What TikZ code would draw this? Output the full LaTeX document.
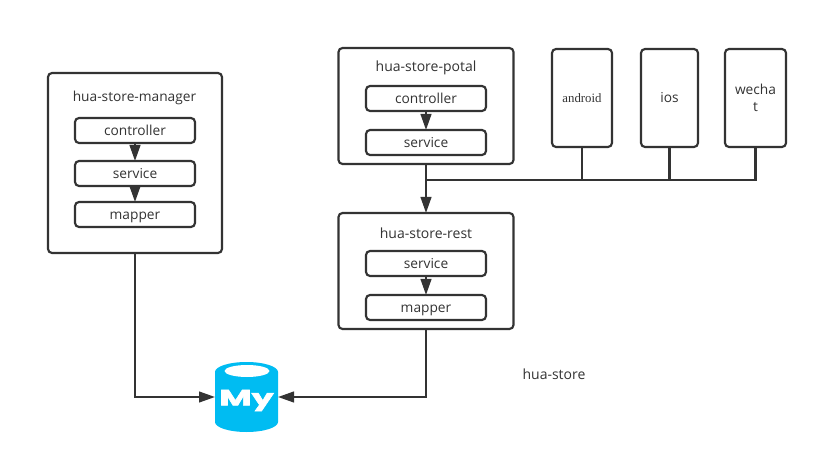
\documentclass[tikz,border=0pt]{standalone}
\usepackage{fontspec}
\setmainfont{Open Sans}
\newfontfamily\serifface{Liberation Serif}
\newfontfamily\logoface{Poppins}[BoldFeatures={FakeBold=2}]
\usetikzlibrary{arrows.meta}
\definecolor{ink}{HTML}{333333}
\definecolor{dbblue}{HTML}{00BCF2}
\tikzset{
  x=0.75pt,y=-0.75pt,
  rbox/.style={draw=ink,line width=1.6pt,rounded corners=3pt,fill=white,inner sep=0pt,outer sep=0pt,align=center,text=ink,font=\fontsize{10.3pt}{12.4pt}\selectfont},
  outerbox/.style={rbox,minimum width=131.25pt},
  innerbox/.style={rbox,minimum width=90pt,minimum height=18.75pt,text height=8.4pt,text depth=1pt},
  devicebox/.style={rbox,minimum height=73.5pt},
  label/.style={inner sep=0pt,text=ink,font=\fontsize{10.5pt}{12.4pt}\selectfont},
  conn/.style={draw=ink,line width=1.6pt},
  arr/.style={conn,-{Triangle[length=12pt,width=8pt]}},
}
\begin{document}
\begin{tikzpicture}
\useasboundingbox (0,0) rectangle (817,463);
% manager
\node[outerbox,minimum width=130.5pt,minimum height=135pt] (manager) at (135,163) {};
\node[label,font=\fontsize{10.3pt}{12.4pt}\selectfont] (mantitle) at (134.5,98) {hua-store-manager};
\node[innerbox] (mc) at (135,130.5) {controller};
\node[innerbox] (ms) at (135,173.5) {service};
\node[innerbox] (mm) at (135,214.5) {mapper};
% portal
\node[outerbox,minimum height=87pt] (potal) at (426,106) {};
\node[label] (pottitle) at (426,68) {hua-store-potal};
\node[innerbox] (pc) at (426,98.5) {controller};
\node[innerbox] (ps) at (426,142.5) {service};
% rest
\node[outerbox,minimum height=87pt] (rest) at (426,271) {};
\node[label] (resttitle) at (426,233) {hua-store-rest};
\node[innerbox] (rs) at (426,263.5) {service};
\node[innerbox] (rm) at (426,307.5) {mapper};
% devices
\node[devicebox,minimum width=45pt,font=\fontsize{9.6pt}{10pt}\serifface] (android) at (582,98) {android};
\node[devicebox,minimum width=42.75pt] (ios) at (669.5,98) {ios};
\node[devicebox,minimum width=45.75pt] (wechat) at (755.5,98) {wecha\\t};
% database
\fill[dbblue] (215,372) arc[start angle=180,end angle=360,x radius=31.5,y radius=10] -- (278,422) arc[start angle=0,end angle=180,x radius=31.5,y radius=10] -- cycle;
\fill[white] (247,371) ellipse[x radius=22.5,y radius=6];
\node[inner sep=0pt,outer sep=0pt,minimum width=47.25pt,minimum height=52.5pt] (db) at (246.5,397) {};
\node[inner sep=0pt,text=white,font=\fontsize{16.5pt}{16.5pt}\logoface\bfseries,xscale=1.6] (mylogo) at (246.5,400.5) {My};
\node[label] (store) at (554,374) {hua-store};
% connectors
\coordinate (bus) at (426,180);
\draw[arr] (mc) -- (ms);
\draw[arr] (ms) -- (mm);
\draw[arr] (pc) -- (ps);
\draw[arr] (rs) -- (rm);
\draw[arr] (potal) -- (rest);
\draw[conn] (android) -- (android |- bus);
\draw[conn] (ios) -- (ios |- bus);
\draw[conn] (wechat) |- (bus);
\draw[arr] (manager) |- (db);
\draw[arr] (rest) |- (db);
\end{tikzpicture}
\end{document}
